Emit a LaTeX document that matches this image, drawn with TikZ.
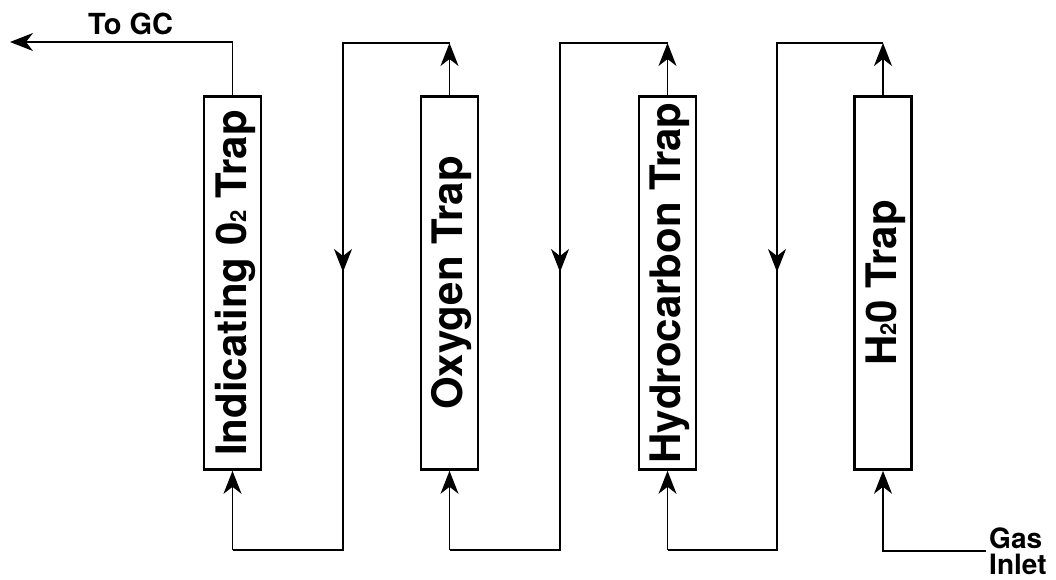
\documentclass[tikz,border=0pt]{standalone}
\usepackage{fontspec}
\setmainfont{TeX Gyre Heros}
\usetikzlibrary{arrows.meta}
\newcommand{\smalltwo}{{\fontsize{22}{22}\selectfont 2}}
\begin{document}
\begin{tikzpicture}[x=1pt,y=-1pt,
  trap/.style={draw, line width=2.6pt, minimum width=57pt, minimum height=373pt, inner sep=0pt},
  lbl/.style={rotate=90, font=\fontsize{42}{42}\selectfont\bfseries, inner sep=0pt},
  pipe/.style={line width=1.3pt},
  arr/.style={pipe, -{Stealth[length=23pt, width=18pt, inset=7pt]}},
  txt/.style={font=\fontsize{29}{29}\selectfont\bfseries, inner sep=0pt}]
\useasboundingbox (0,0) rectangle (1056,579);

% traps
\node[trap] (T1) at (232.5,283) {};
\node[trap] (T2) at (449.5,283) {};
\node[trap] (T3) at (667.5,283) {};
\node[trap] (T4) at (883,283) {};
\node[lbl] (L1) at ([xshift=2.5pt]T1.center) {Indicating 0\smalltwo{} Trap};
\node[lbl] (L2) at ([xshift=2.5pt]T2.center) {Oxygen Trap};
\node[lbl] (L3) at ([xshift=2.5pt]T3.center) {Hydrocarbon Trap};
\node[lbl] (L4) at ([xshift=2.5pt]T4.center) {H\smalltwo{}0 Trap};

% labels
\node[txt, anchor=base west] (gc) at (88,34) {To GC};
\node[txt, anchor=north west, align=left, font=\fontsize{28}{26}\selectfont\bfseries] (gas) at (989,528) {Gas\\Inlet};

% coordinates
\coordinate (out) at (10,42);
\coordinate (a2) at (449.5,43);
\coordinate (b2) at (343,43);
\coordinate (m2) at (343,272);
\coordinate (d2) at (343,550);
\coordinate (e2) at (232.5,550);
\coordinate (a3) at (667.5,43);
\coordinate (b3) at (560,43);
\coordinate (m3) at (560,272);
\coordinate (d3) at (560,550);
\coordinate (e3) at (449.5,550);
\coordinate (a4) at (883,43);
\coordinate (b4) at (777,43);
\coordinate (m4) at (777,272);
\coordinate (d4) at (777,550);
\coordinate (e4) at (667.5,550);
\coordinate (g0) at (986,551);

% outlet
\draw[arr] (T1.north) |- (out);

% T2 -> T1
\draw[arr] (T2.north) -- (a2);
\draw[pipe] (a2) -- (b2) -- (d2) -- (e2);
\draw[arr] (b2) -- (m2);
\draw[arr] (e2) -- (T1.south);

% T3 -> T2
\draw[arr] (T3.north) -- (a3);
\draw[pipe] (a3) -- (b3) -- (d3) -- (e3);
\draw[arr] (b3) -- (m3);
\draw[arr] (e3) -- (T2.south);

% T4 -> T3
\draw[arr] (T4.north) -- (a4);
\draw[pipe] (a4) -- (b4) -- (d4) -- (e4);
\draw[arr] (b4) -- (m4);
\draw[arr] (e4) -- (T3.south);

% inlet
\draw[arr] (g0) -| (T4.south);
\end{tikzpicture}
\end{document}
